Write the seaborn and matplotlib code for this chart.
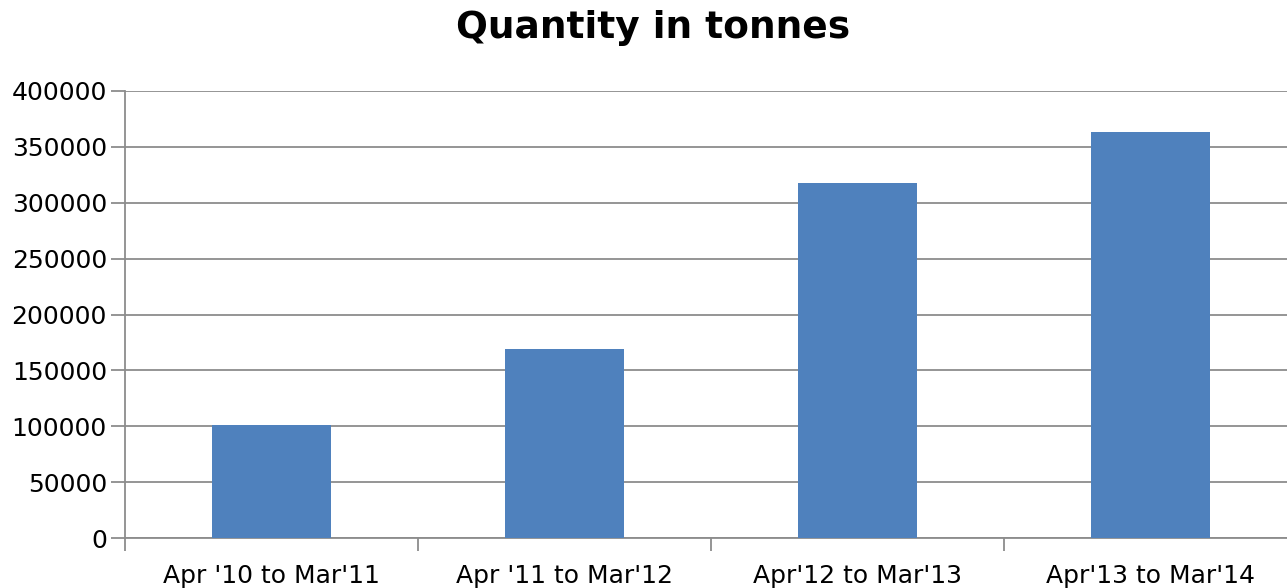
import matplotlib
matplotlib.use("Agg")
import matplotlib.pyplot as plt
import seaborn as sns
import pandas as pd

# Values
periods = ["Apr '10 to Mar'11", "Apr '11 to Mar'12", "Apr'12 to Mar'13", "Apr'13 to Mar'14"]
quantity_tonnes = [101500, 169500, 317500, 363200]
y_ticks = [0, 50000, 100000, 150000, 200000, 250000, 300000, 350000, 400000]

df = pd.DataFrame({"period": periods, "quantity": quantity_tonnes})

sns.set_style("white")
plt.rcParams["font.family"] = ["DejaVu Sans"]
plt.rcParams["text.color"] = "black"
plt.rcParams["xtick.color"] = "black"
plt.rcParams["ytick.color"] = "black"

fig = plt.figure(figsize=(12.87, 5.88), dpi=100)
# plot area runs a little past the right edge of the image, as in the original
ax = fig.add_axes([125 / 1287, 50 / 588, 1172 / 1287, 447 / 588])

sns.barplot(data=df, x="period", y="quantity", color="#4F81BD", width=0.403,
            saturation=1, linewidth=0, ax=ax, zorder=3)

grid_col = "#8c8c8c"
ax.set_ylim(0, 400000)
ax.set_xlim(-0.5, 3.5)
ax.set_yticks(y_ticks)
ax.set_yticklabels([str(v) for v in y_ticks], fontsize=18)
ax.yaxis.grid(True, color=grid_col, linewidth=1.3, zorder=0)
ax.set_axisbelow(True)

# category-boundary ticks on x axis
ax.set_xticks([0, 1, 2, 3])
ax.set_xticklabels(periods, fontsize=18)
ax.tick_params(axis="x", which="major", bottom=True, length=0, pad=19, labelcolor="black")
ax.set_xticks([-0.5, 0.5, 1.5, 2.5, 3.5], minor=True)
ax.tick_params(axis="x", which="minor", bottom=True, length=9, color=grid_col, width=1.3)
ax.tick_params(axis="y", left=True, length=10, color=grid_col, width=1.3, pad=3,
               labelcolor="black")

for side in ["top", "right"]:
    ax.spines[side].set_visible(False)
for side in ["left", "bottom"]:
    ax.spines[side].set_color(grid_col)
    ax.spines[side].set_linewidth(1.3)

ax.set_xlabel("")
ax.set_ylabel("")
fig.text(653 / 1287, 1 - 28 / 588, "Quantity in tonnes", ha="center", va="center",
         fontsize=27, fontweight="bold", color="black")

fig.savefig("out.png", dpi=100)
